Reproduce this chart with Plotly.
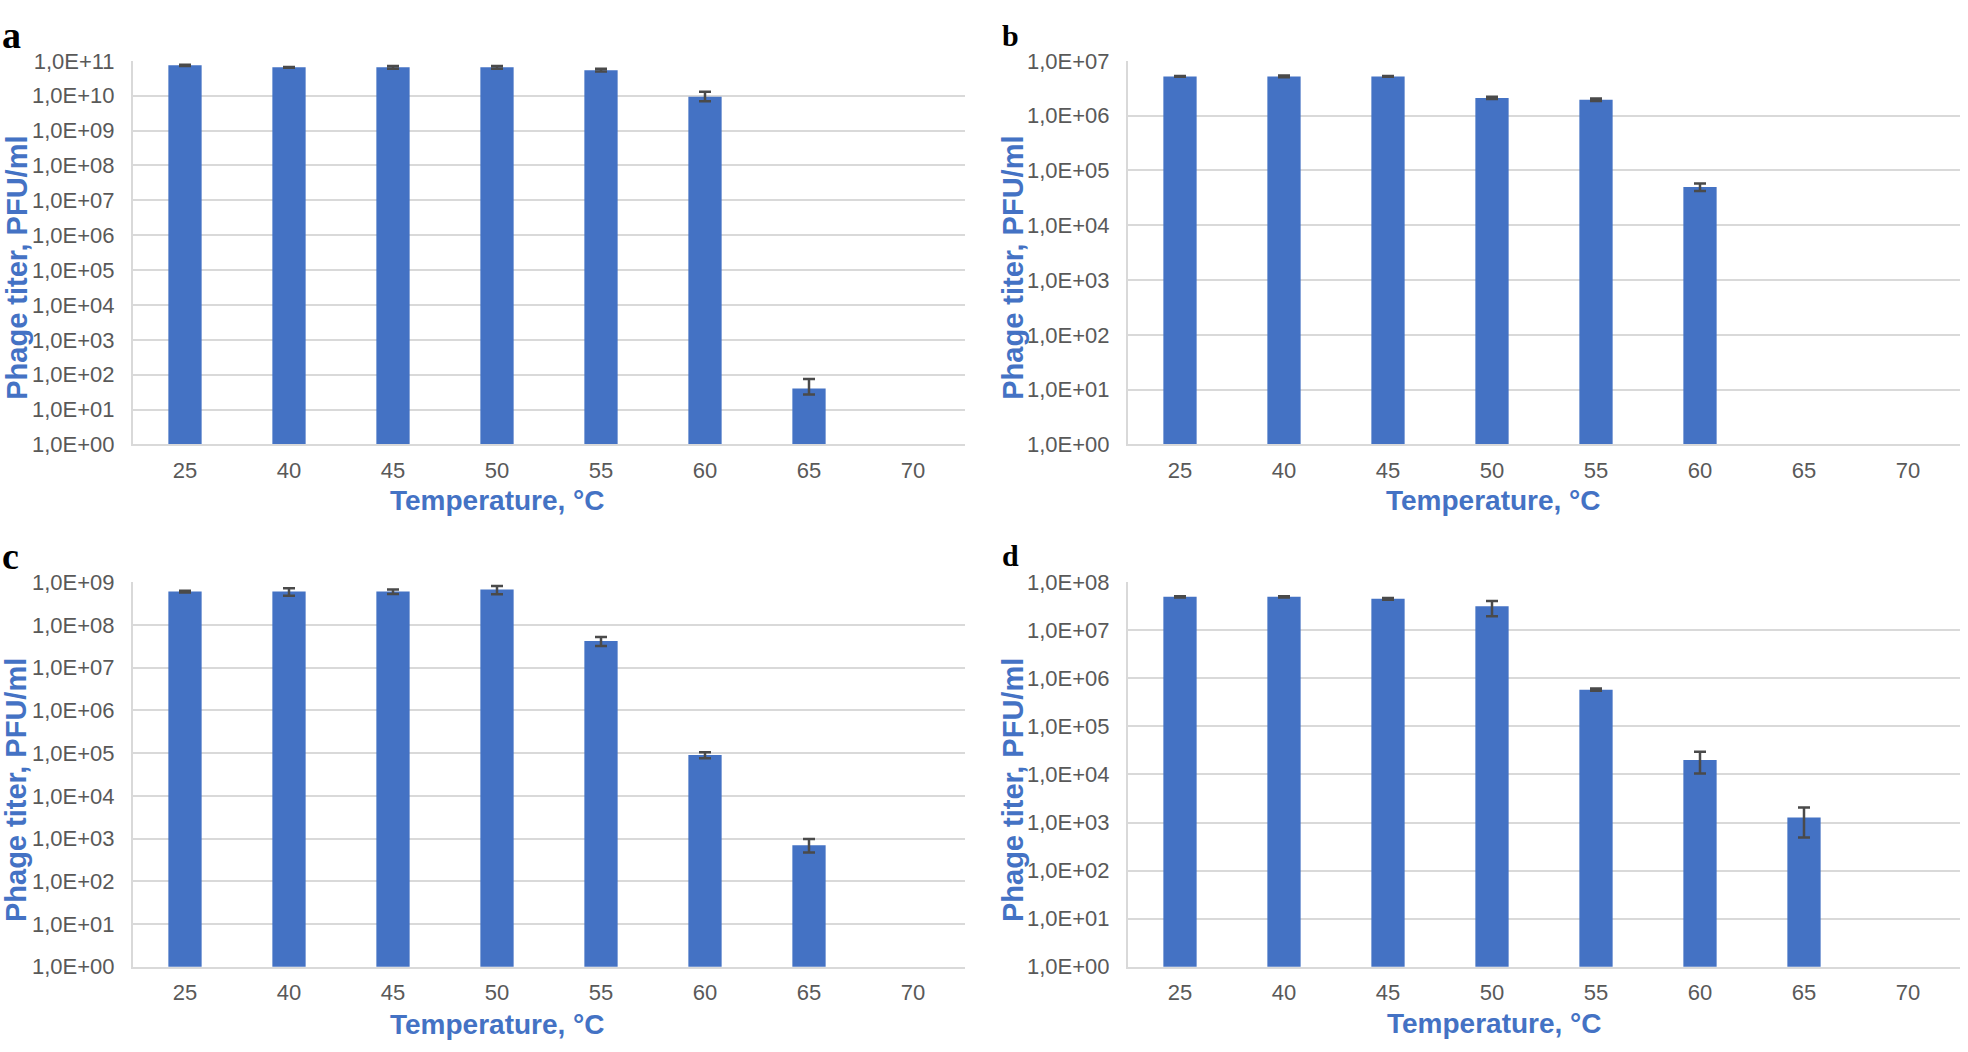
import plotly.graph_objects as go

W, H = 1968, 1052

temps = ["25", "40", "45", "50", "55", "60", "65", "70"]

# Panel a
a_vals = [7.4e10, 6.5e10, 6.5e10, 6.5e10, 5.4e10, 9.4e9, 40, None]
a_err_plus = [3e9, 2e9, 6e9, 6e9, 5e9, 3.5e9, 35, None]
a_err_minus = [3e9, 2e9, 6e9, 6e9, 5e9, 2.5e9, 13, None]
# Panel b
b_vals = [5.2e6, 5.2e6, 5.2e6, 2.1e6, 1.95e6, 5.0e4, None, None]
b_err_plus = [1e5, 2e5, 1e5, 1e5, 1e5, 8e3, None, None]
b_err_minus = [1e5, 2e5, 1e5, 1e5, 1e5, 8e3, None, None]
# Panel c
c_vals = [6.0e8, 6.0e8, 6.0e8, 6.7e8, 4.2e7, 9.0e4, 700, None]
c_err_plus = [3e7, 1.2e8, 7e7, 1.4e8, 1e7, 1.5e4, 270, None]
c_err_minus = [3e7, 1.2e8, 7e7, 1.5e8, 1e7, 1.4e4, 230, None]
# Panel d
d_vals = [4.95e7, 4.95e7, 4.5e7, 3.15e7, 5.8e5, 2.0e4, 1270, None]
d_err_plus = [1.5e6, 1.5e6, 2e6, 9e6, 3e4, 9.5e3, 780, None]
d_err_minus = [1.5e6, 1.5e6, 2e6, 1.2e7, 3e4, 9.5e3, 780, None]

# exponent ranges of the y axes
a_exp = 11
b_exp = 7
c_exp = 9
d_exp = 8

panel_letters = ["a", "b", "c", "d"]
y_title = "Phage titer, PFU/ml"
x_title = "Temperature, °C"

BLUE = "#4472C4"
GRID = "#D9D9D9"
TICK = "#595959"
ERR = "#4a4a4a"
FONT = "Arial, Liberation Sans, sans-serif"

# plot-area boxes in pixels: (left, right, top, bottom)
boxes = [(133, 965, 50, 443), (1128, 1960, 50, 443),
         (133, 965, 584, 978), (1128, 1960, 584, 978)]

panels = [
    (a_vals, a_err_plus, a_err_minus, a_exp),
    (b_vals, b_err_plus, b_err_minus, b_exp),
    (c_vals, c_err_plus, c_err_minus, c_exp),
    (d_vals, d_err_plus, d_err_minus, d_exp),
]

fig = go.Figure()
layout = dict(
    width=W, height=H,
    margin=dict(l=0, r=0, t=0, b=0),
    paper_bgcolor="white", plot_bgcolor="white",
    showlegend=False, bargap=0.68,
    font=dict(family=FONT, color=TICK, size=22),
)
annotations = []

for i, ((vals, ep, em, ex), (l, r, t, b)) in enumerate(zip(panels, boxes)):
    n = i + 1
    xa = "x" if n == 1 else f"x{n}"
    ya = "y" if n == 1 else f"y{n}"
    fig.add_trace(go.Bar(
        x=temps, y=vals, xaxis=xa, yaxis=ya,
        marker=dict(color=BLUE, line=dict(width=0)),
        error_y=dict(type="data", array=ep, arrayminus=em, symmetric=False,
                     color=ERR, thickness=2.5, width=6),
        hoverinfo="x+y",
    ))
    xkey = "xaxis" if n == 1 else f"xaxis{n}"
    ykey = "yaxis" if n == 1 else f"yaxis{n}"
    layout[xkey] = dict(
        domain=[l / W, r / W], anchor=ya, type="category",
        categoryorder="array", categoryarray=temps, range=[-0.5, 7.5],
        showgrid=False, showline=True, linecolor=GRID, linewidth=2,
        ticks="", ticklabelstandoff=5,
        tickfont=dict(family=FONT, size=22, color=TICK), zeroline=False,
    )
    tv = [10 ** k for k in range(ex + 1)]
    tt = [f"1,0E+{k:02d}" for k in range(ex + 1)]
    layout[ykey] = dict(
        domain=[1 - b / H, 1 - t / H], anchor=xa, type="log",
        range=[0, ex], tickvals=tv, ticktext=tt,
        showgrid=True, gridcolor=GRID, gridwidth=2,
        showline=True, linecolor=GRID, linewidth=2,
        ticks="", ticklabelstandoff=12,
        tickfont=dict(family=FONT, size=22, color=TICK), zeroline=False,
    )

# panel letters
letter_pos = [(0, 24, 38), (1000, 24, 30), (0, 557, 38), (1000, 557, 30)]
for ch, (px, py, fs) in zip(panel_letters, letter_pos):
    annotations.append(dict(
        text=f"<b>{ch}</b>", x=px / W, y=1 - py / H, xref="paper", yref="paper",
        xanchor="left", yanchor="middle", showarrow=False,
        font=dict(family="Liberation Serif, Times New Roman, serif", size=fs, color="black"),
    ))

# axis titles
ytitle_pos = [(17, 262), (1013, 262), (16, 797), (1013, 797)]
for px, py in ytitle_pos:
    annotations.append(dict(
        text=f"<b>{y_title}</b>", x=px / W, y=1 - py / H, xref="paper", yref="paper",
        xanchor="center", yanchor="middle", textangle=-90, showarrow=False,
        font=dict(family=FONT, size=29, color=BLUE),
    ))
xtitle_pos = [(497, 500), (1493, 500), (497, 1037), (1494, 1036)]
for px, py in xtitle_pos:
    annotations.append(dict(
        text=f"<b>{x_title}</b>", x=px / W, y=1 - py / H, xref="paper", yref="paper",
        xanchor="center", yanchor="middle", showarrow=False,
        font=dict(family=FONT, size=28, color=BLUE),
    ))

layout["annotations"] = annotations
fig.update_layout(**layout)
fig.write_html(
    "out.html",
    config={"displayModeBar": False},
    post_script="document.body.style.margin='0';document.body.style.overflow='hidden';",
)
